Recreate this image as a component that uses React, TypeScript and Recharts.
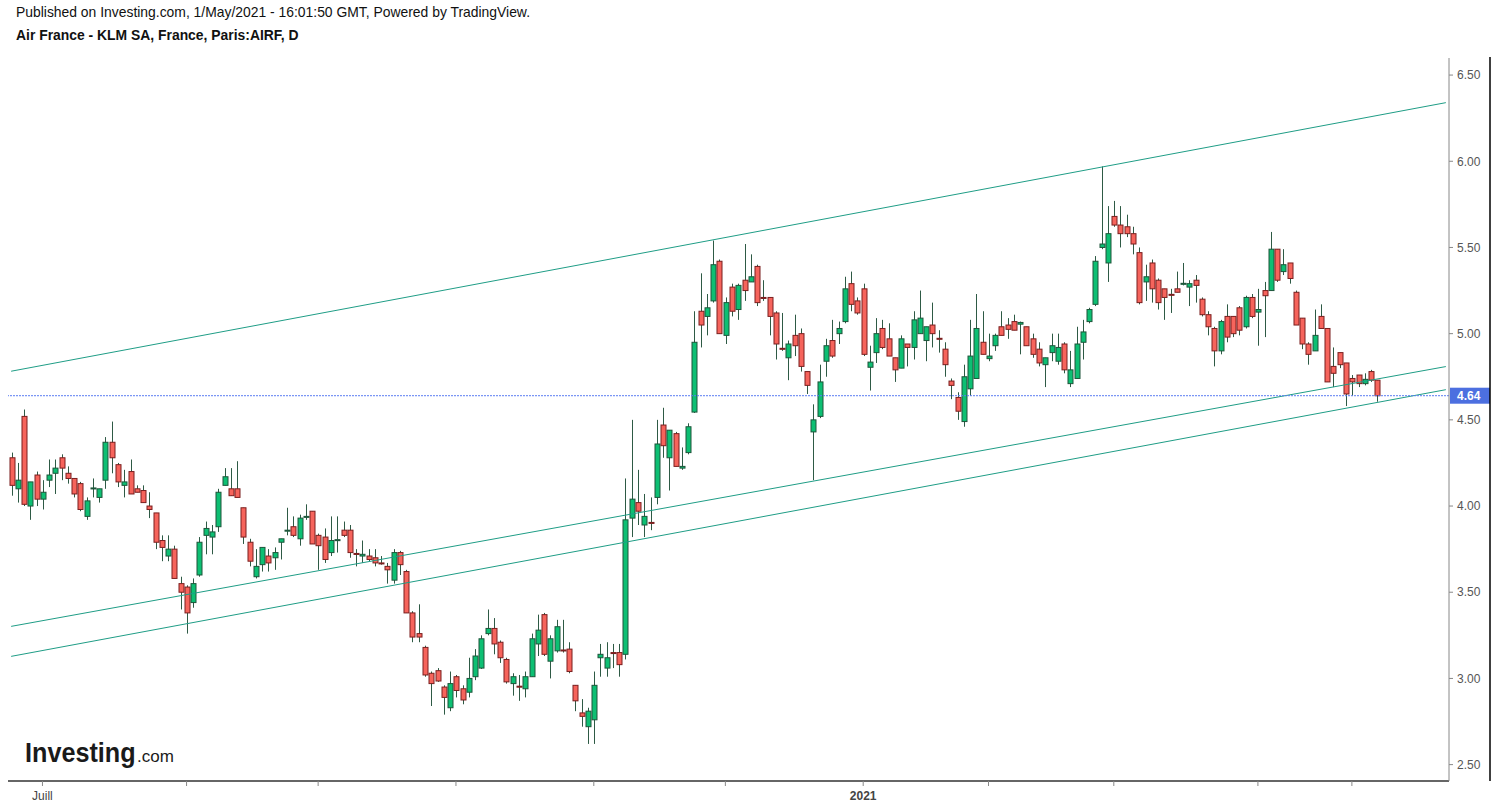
import React from 'react'
import { ComposedChart, Bar, XAxis, YAxis, ReferenceLine } from 'recharts'

// daily candles, Jun 2020 -> 30 Apr 2021
const opens = [
  4.28, 4.10, 4.52, 4.00, 4.18, 4.04, 4.15, 4.19, 4.28, 4.19, 4.16, 4.13, 3.94, 4.10, 4.05, 4.15, 4.37, 4.24, 4.12, 4.20,
  4.10, 4.09, 4.00, 3.96, 3.80, 3.71, 3.75, 3.55, 3.53, 3.44, 3.60, 3.83, 3.82, 3.88, 4.12, 4.10, 4.10, 3.99, 3.79, 3.59,
  3.66, 3.71, 3.70, 3.79, 3.855, 3.88, 3.81, 3.935, 3.97, 3.83, 3.82, 3.73, 3.80, 3.86, 3.86, 3.725, 3.71, 3.71, 3.70, 3.67,
  3.65, 3.57, 3.73, 3.62, 3.38, 3.26, 3.18, 3.03, 3.045, 2.95, 2.83, 3.01, 2.94, 2.92, 3.01, 3.06, 3.26, 3.29, 3.21, 3.11,
  2.97, 2.955, 2.94, 3.01, 3.20, 3.37, 3.10, 3.16, 3.165, 3.17, 2.96, 2.80, 2.72, 2.76, 3.12, 3.06, 3.15, 3.15, 3.14, 3.93,
  4.02, 3.89, 3.905, 4.05, 4.47, 4.28, 4.42, 4.22, 4.31, 4.545, 5.13, 5.10, 5.19, 5.42, 4.99, 5.27, 5.14, 5.31, 5.30, 5.39,
  5.21, 5.21, 5.12, 4.915, 4.86, 4.99, 5.00, 4.78, 4.43, 4.52, 4.84, 4.96, 5.00, 5.07, 5.29, 5.19, 5.26, 4.805, 4.89, 5.03,
  4.97, 4.86, 4.80, 4.94, 4.92, 5.00, 4.96, 5.05, 4.973, 4.91, 4.725, 4.63, 4.49, 4.68, 4.74, 4.95, 4.855, 4.93, 5.04, 5.05,
  5.07, 5.055, 5.04, 4.97, 4.91, 4.82, 4.89, 4.84, 4.94, 4.71, 4.74, 4.95, 5.07, 5.17, 5.50, 5.41, 5.68, 5.63, 5.62, 5.58,
  5.47, 5.30, 5.41, 5.31, 5.26, 5.228, 5.26, 5.29, 5.27, 5.31, 5.20, 5.11, 5.03, 4.90, 5.10, 5.10, 5.15, 5.04, 5.21, 5.125,
  5.25, 5.25, 5.49, 5.36, 5.41, 5.24, 5.09, 4.94, 4.90, 5.10, 5.03, 4.81, 4.89, 4.83, 4.74, 4.76, 4.71, 4.78, 4.73,
]
const highs = [
  4.31, 4.25, 4.56, 4.14, 4.20, 4.15, 4.27, 4.27, 4.30, 4.23, 4.16, 4.14, 4.05, 4.16, 4.10, 4.40, 4.49, 4.25, 4.21, 4.27,
  4.12, 4.12, 4.08, 3.96, 3.83, 3.83, 3.77, 3.59, 3.54, 3.58, 3.82, 3.91, 3.89, 4.10, 4.22, 4.22, 4.26, 3.99, 3.81, 3.75,
  3.76, 3.75, 3.76, 3.81, 3.99, 3.94, 3.95, 4.01, 3.97, 3.84, 3.87, 3.94, 3.94, 3.91, 3.89, 3.75, 3.80, 3.75, 3.75, 3.71,
  3.67, 3.75, 3.74, 3.63, 3.39, 3.43, 3.19, 3.04, 3.06, 2.96, 3.04, 3.02, 2.96, 3.12, 3.17, 3.25, 3.40, 3.35, 3.22, 3.12,
  3.03, 3.02, 3.04, 3.26, 3.37, 3.38, 3.25, 3.34, 3.34, 3.21, 2.96, 2.88, 2.83, 3.04, 3.20, 3.21, 3.20, 3.20, 4.16, 4.50,
  4.21, 4.07, 4.05, 4.50, 4.57, 4.44, 4.43, 4.34, 4.48, 5.13, 5.35, 5.23, 5.54, 5.43, 5.21, 5.29, 5.29, 5.52, 5.46, 5.40,
  5.31, 5.21, 5.13, 5.12, 4.96, 5.11, 5.03, 4.78, 4.59, 4.82, 4.97, 5.08, 5.07, 5.33, 5.36, 5.21, 5.29, 4.93, 5.09, 5.08,
  5.06, 4.86, 4.99, 4.94, 5.13, 5.25, 5.04, 5.18, 5.02, 4.95, 4.74, 4.66, 4.82, 5.08, 5.23, 5.13, 5.00, 5.00, 5.13, 5.09,
  5.11, 5.07, 5.04, 5.00, 4.95, 4.86, 5.00, 5.00, 4.95, 4.90, 5.04, 5.08, 5.15, 5.45, 5.97, 5.74, 5.77, 5.74, 5.69, 5.62,
  5.50, 5.40, 5.43, 5.32, 5.26, 5.26, 5.36, 5.41, 5.31, 5.34, 5.21, 5.13, 5.04, 5.08, 5.17, 5.10, 5.16, 5.22, 5.23, 5.26,
  5.30, 5.59, 5.49, 5.49, 5.41, 5.25, 5.09, 4.95, 5.14, 5.17, 5.03, 4.92, 4.89, 4.83, 4.76, 4.76, 4.77, 4.79, 4.73,
]
const lows = [
  4.06, 4.02, 4.00, 3.92, 4.00, 3.98, 4.11, 4.07, 4.15, 4.13, 4.05, 3.97, 3.92, 4.05, 4.02, 4.10, 4.19, 4.11, 4.05, 4.07,
  4.08, 4.02, 3.93, 3.75, 3.68, 3.68, 3.58, 3.40, 3.26, 3.41, 3.59, 3.72, 3.72, 3.85, 4.12, 4.06, 4.05, 3.78, 3.65, 3.58,
  3.62, 3.62, 3.63, 3.69, 3.83, 3.82, 3.77, 3.92, 3.78, 3.63, 3.67, 3.71, 3.73, 3.82, 3.70, 3.65, 3.67, 3.68, 3.65, 3.66,
  3.55, 3.55, 3.60, 3.38, 3.21, 3.21, 3.01, 2.84, 2.98, 2.79, 2.81, 2.89, 2.85, 2.89, 2.99, 3.055, 3.25, 3.14, 3.09, 2.97,
  2.90, 2.87, 2.89, 3.01, 3.13, 3.13, 3.00, 3.15, 3.15, 3.03, 2.81, 2.72, 2.62, 2.62, 3.01, 3.01, 3.06, 3.01, 3.11, 3.82,
  3.89, 3.82, 3.86, 4.01, 4.28, 4.09, 4.23, 4.21, 4.30, 4.54, 4.92, 4.99, 5.18, 5.00, 4.94, 5.10, 5.08, 5.19, 5.30, 5.16,
  5.19, 4.99, 4.85, 4.90, 4.73, 4.87, 4.78, 4.65, 4.15, 4.51, 4.75, 4.86, 4.94, 5.06, 5.13, 5.11, 4.87, 4.67, 4.83, 4.91,
  4.87, 4.72, 4.80, 4.81, 4.85, 5.00, 4.84, 4.92, 4.89, 4.75, 4.62, 4.50, 4.46, 4.64, 4.74, 4.88, 4.84, 4.90, 4.99, 4.97,
  5.02, 4.88, 4.93, 4.86, 4.81, 4.69, 4.84, 4.82, 4.77, 4.69, 4.74, 4.85, 5.06, 5.16, 5.49, 5.30, 5.62, 5.50, 5.56, 5.46,
  5.17, 5.19, 5.18, 5.14, 5.08, 5.12, 5.24, 5.28, 5.16, 5.18, 5.10, 4.99, 4.81, 4.88, 4.95, 4.98, 4.99, 5.03, 5.09, 4.93,
  4.98, 5.25, 5.30, 5.34, 5.29, 5.05, 4.91, 4.82, 4.90, 5.03, 4.72, 4.69, 4.80, 4.58, 4.64, 4.69, 4.70, 4.72, 4.605,
]
const closes = [
  4.12, 4.15, 4.01, 4.14, 4.04, 4.08, 4.18, 4.22, 4.22, 4.16, 4.07, 3.98, 4.03, 4.105, 4.10, 4.37, 4.28, 4.14, 4.14, 4.07,
  4.08, 4.02, 3.98, 3.79, 3.76, 3.75, 3.58, 3.50, 3.38, 3.55, 3.79, 3.87, 3.85, 4.08, 4.17, 4.06, 4.05, 3.82, 3.68, 3.65,
  3.76, 3.67, 3.73, 3.81, 3.86, 3.83, 3.93, 3.94, 3.78, 3.77, 3.69, 3.80, 3.805, 3.83, 3.73, 3.72, 3.72, 3.69, 3.67, 3.665,
  3.63, 3.73, 3.66, 3.38, 3.24, 3.24, 3.02, 2.97, 2.985, 2.89, 2.97, 2.93, 2.875, 3.00, 3.13, 3.23, 3.29, 3.20, 3.12, 2.98,
  3.01, 2.95, 3.01, 3.23, 3.28, 3.14, 3.23, 3.30, 3.16, 3.04, 2.87, 2.78, 2.81, 2.96, 3.14, 3.12, 3.148, 3.08, 3.92, 4.04,
  3.97, 3.94, 3.90, 4.36, 4.35, 4.44, 4.23, 4.23, 4.46, 4.95, 5.05, 5.15, 5.40, 5.00, 5.18, 5.13, 5.28, 5.25, 5.33, 5.18,
  5.205, 5.10, 4.94, 4.91, 4.94, 4.93, 4.81, 4.70, 4.50, 4.72, 4.93, 4.87, 5.03, 5.26, 5.17, 5.12, 4.88, 4.835, 5.00, 4.92,
  4.87, 4.79, 4.97, 4.92, 5.08, 5.09, 5.04, 5.00, 4.97, 4.82, 4.70, 4.55, 4.75, 4.87, 5.03, 4.88, 4.87, 4.99, 4.99, 5.025,
  5.02, 5.065, 4.93, 4.88, 4.83, 4.86, 4.93, 4.92, 4.79, 4.79, 4.94, 5.01, 5.14, 5.42, 5.52, 5.58, 5.63, 5.58, 5.58, 5.52,
  5.18, 5.33, 5.26, 5.18, 5.21, 5.225, 5.24, 5.292, 5.29, 5.28, 5.11, 5.04, 4.90, 5.07, 4.98, 5.00, 5.02, 5.21, 5.10, 5.14,
  5.22, 5.49, 5.31, 5.40, 5.32, 5.05, 4.94, 4.88, 4.99, 5.03, 4.72, 4.77, 4.82, 4.65, 4.72, 4.71, 4.735, 4.73, 4.64,
]

const SLOTS = 230 // candles + empty space on the right
const monthTicks = [5, 28, 49, 71, 93, 114, 136, 156, 176, 199, 214]
const tickLabels: Record<number, string> = { 5: 'Juill', 136: '2021' }
const yTicks = [2.5, 3, 3.5, 4, 4.5, 5, 5.5, 6, 6.5]
const lastPrice = 4.64
const channel = [
  { from: 4.782, to: 6.34 },
  { from: 3.302, to: 4.809 },
  { from: 3.128, to: 4.675 },
]

const data = Array.from({ length: SLOTS }, (_, i) =>
  i < opens.length
    ? { i, range: [lows[i], highs[i]], o: opens[i], h: highs[i], l: lows[i], c: closes[i] }
    : { i, range: null }
)

const FONT = '"Liberation Sans", Arial, sans-serif'

function Candle(props: any) {
  const { x, y, width, height, payload } = props
  if (!payload || payload.range == null) return null
  const { o, h, l, c } = payload
  const top = Math.min(y, y + height)
  const hgt = Math.abs(height)
  const py = (v: number) => top + ((h - v) / (h - l)) * hgt
  const up = c >= o
  const bTop = py(Math.max(o, c))
  const bBot = py(Math.min(o, c))
  const cx = Math.round(x + width / 2) + 0.5
  return (
    <g>
      <line x1={cx} x2={cx} y1={top} y2={top + hgt} stroke="#2e5a45" strokeWidth={1} />
      <rect
        x={cx - 2.5}
        y={bTop}
        width={5}
        height={Math.max(bBot - bTop, 1)}
        fill={up ? '#0dbf73' : '#f6645c'}
        stroke={up ? '#1e553a' : '#7a1f1f'}
        strokeWidth={1}
      />
    </g>
  )
}

function XTick(props: any) {
  const { x, y, payload } = props
  const label = tickLabels[payload.value]
  if (!label) return null
  return (
    <text x={x} y={y + 12} textAnchor="middle" fontSize={12} fontFamily={FONT} fill="#444" fontWeight={label === '2021' ? 700 : 400}>
      {label}
    </text>
  )
}

function PriceLabel(props: any) {
  const vb = props.viewBox || {}
  const x = vb.x + vb.width + 1
  const y = vb.y
  return (
    <g>
      <rect x={x} y={y - 8} width={40} height={16} fill="#4c6fe0" />
      <text x={x + 7} y={y + 4.5} fontSize={12} fontFamily={FONT} fontWeight={700} fill="#fff">
        {lastPrice.toFixed(2)}
      </text>
    </g>
  )
}

export default function App() {
  return (
    <div style={{ position: 'absolute', left: 0, top: 0, width: 1498, height: 811, background: '#fff', overflow: 'hidden' }}>
      <ComposedChart width={1498} height={811} data={data} margin={{ top: 58, right: 8, bottom: 0, left: 8 }}>
        <XAxis
          dataKey="i"
          ticks={monthTicks}
          interval={0}
          tick={<XTick />}
          tickSize={5}
          height={30}
          axisLine={{ stroke: '#666', strokeWidth: 2 }}
          tickLine={{ stroke: '#888' }}
        />
        <YAxis
          orientation="right"
          type="number"
          width={41}
          domain={[2.405, 6.599]}
          allowDataOverflow
          ticks={yTicks}
          tickFormatter={(v: number) => v.toFixed(2)}
          tick={{ fill: '#555', fontSize: 12, fontFamily: FONT }}
          tickSize={4}
          tickMargin={4}
          axisLine={{ stroke: '#888' }}
          tickLine={{ stroke: '#888' }}
        />
        {channel.map((c, k) => (
          <ReferenceLine
            key={k}
            segment={[{ x: 0, y: c.from }, { x: SLOTS - 1, y: c.to }]}
            stroke="#1f9d86"
            strokeWidth={1}
            ifOverflow="visible"
          />
        ))}
        <ReferenceLine y={lastPrice} stroke="#5a7cf2" strokeWidth={1} strokeDasharray="2 1" label={<PriceLabel />} />
        <Bar dataKey="range" barSize={5} shape={(p: any) => <Candle {...p} />} isAnimationActive={false} />
      </ComposedChart>
      <svg width={1498} height={811} style={{ position: 'absolute', left: 0, top: 0, pointerEvents: 'none' }}>
        <text x={16} y={17} fontSize={13.9} fontFamily={FONT} fill="#111">
          Published on Investing.com, 1/May/2021 - 16:01:50 GMT, Powered by TradingView.
        </text>
        <text x={16} y={40} fontSize={13.9} fontWeight={700} fontFamily={FONT} fill="#111">
          Air France - KLM SA, France, Paris:AIRF, D
        </text>
        <g transform="translate(25,762) scale(0.9,1)">
          <text x={0} y={0} fontSize={28} fontWeight={700} fontFamily={FONT} fill="#1a1a1a">
            Investing
          </text>
        </g>
        <text x={137} y={762} fontSize={17} fontFamily={FONT} fill="#1a1a1a">
          .com
        </text>
        <line x1={1490} x2={1490} y1={57} y2={781} stroke="#000" strokeWidth={1.5} />
      </svg>
    </div>
  )
}
